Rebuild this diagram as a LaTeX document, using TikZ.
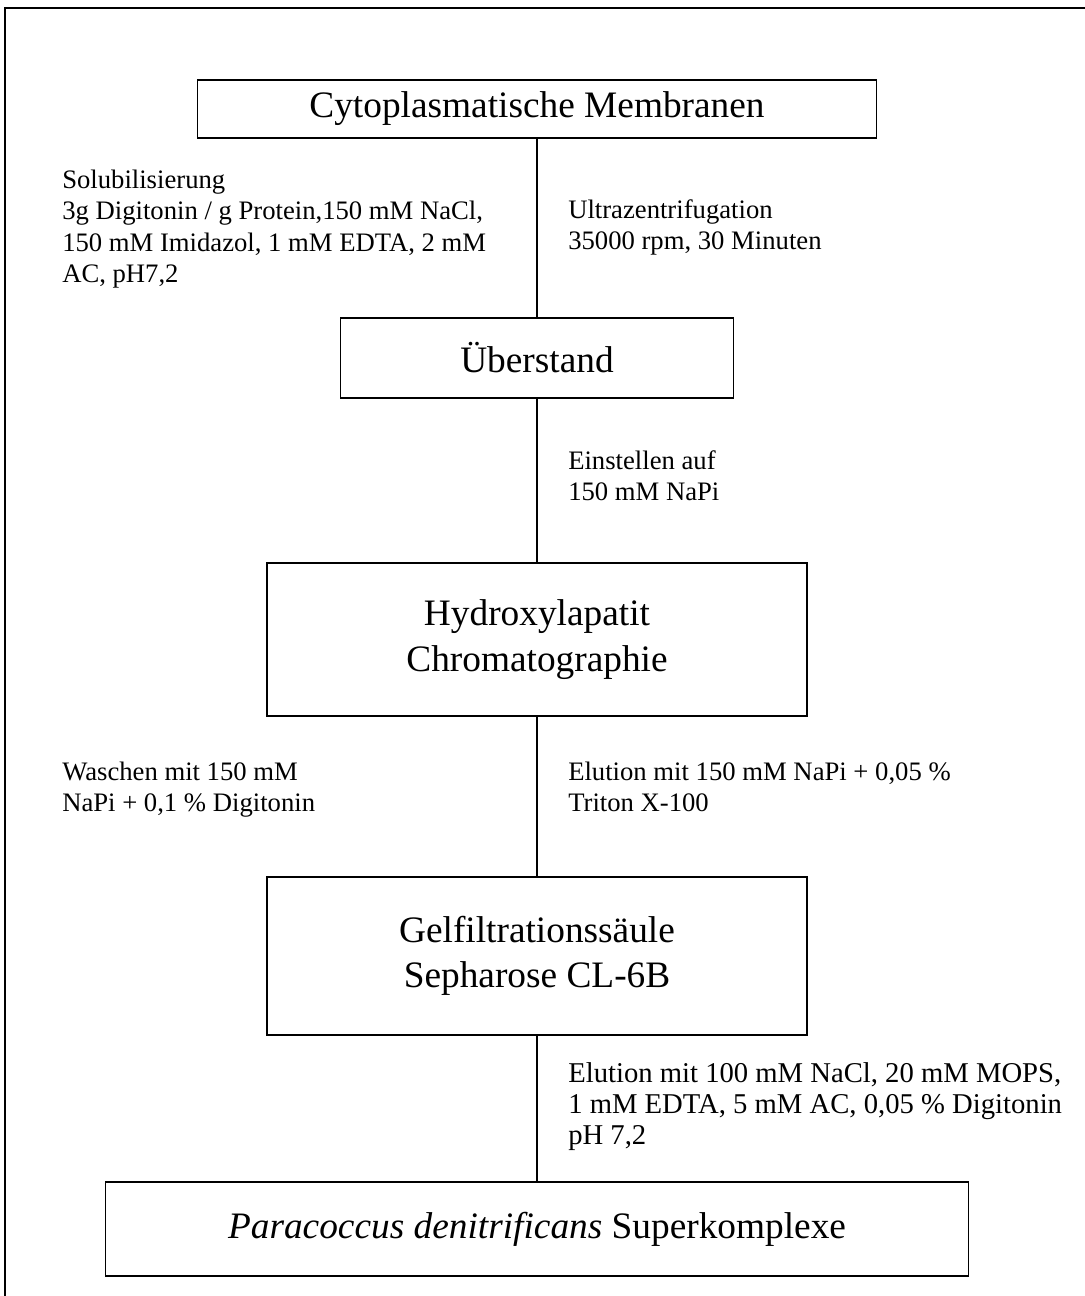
\documentclass[tikz,border=0pt]{standalone}
\usepackage{fontspec}
\setmainfont{Liberation Serif}
\usetikzlibrary{positioning}

\begin{document}
\begin{tikzpicture}[x=0.75pt,y=-0.75pt,
  stage/.style={draw=black,line width=1.3pt,align=center,inner sep=2pt,font=\fontsize{28}{34}\selectfont},
  note/.style={anchor=north west,align=left,inner sep=0pt,font=\fontsize{20}{23.4}\selectfont},
  link/.style={black,line width=1pt}]
\useasboundingbox (0,0) rectangle (1085,1296);

% process steps
\node[stage,minimum width=679*0.75pt,minimum height=58*0.75pt] (mem) at (537,109) {Cytoplasmatische Membranen};
\node[stage,minimum width=393*0.75pt,minimum height=80*0.75pt] (ueb) at (537,358) {Überstand};
\node[stage,minimum width=540*0.75pt,minimum height=153*0.75pt] (hap) at (537,639.5) {Hydroxylapatit\\Chromatographie};
\node[stage,minimum width=540*0.75pt,minimum height=158*0.75pt] (gel) at (537,956) {Gelfiltrationssäule\\Sepharose CL-6B};
\node[stage,minimum width=863*0.75pt,minimum height=94*0.75pt] (sk) at (537,1229) {\textit{Paracoccus denitrificans} Superkomplexe};

% connections
\draw[link] (mem.south) -- (ueb.north);
\draw[link] (ueb.south) -- (hap.north);
\draw[link] (hap.south) -- (gel.north);
\draw[link] (gel.south) -- (sk.north);

% conditions
\node[note] (sol) at (62,170) {Solubilisierung\\3g Digitonin / g Protein,150 mM NaCl,\\150 mM Imidazol, 1 mM EDTA, 2 mM\\AC, pH7,2};
\node[note] (uz) at (568,199) {Ultrazentrifugation\\35000 rpm, 30 Minuten};
\node[note] (ein) at (568,450) {Einstellen auf\\150 mM NaPi};
\node[note] (wa) at (62,762) {Waschen mit 150 mM\\NaPi + 0,1 \% Digitonin};
\node[note] (el1) at (568,762) {Elution mit 150 mM NaPi + 0,05 \%\\Triton X-100};
\node[note,font=\fontsize{21.5}{23.4}\selectfont] (el2) at (568,1062) {Elution mit 100 mM NaCl, 20 mM MOPS,\\1 mM EDTA, 5 mM AC, 0,05 \% Digitonin\\pH 7,2};

% page frame
\draw[line width=1.3pt] (5,8) rectangle (1110,1320);
\end{tikzpicture}
\end{document}
